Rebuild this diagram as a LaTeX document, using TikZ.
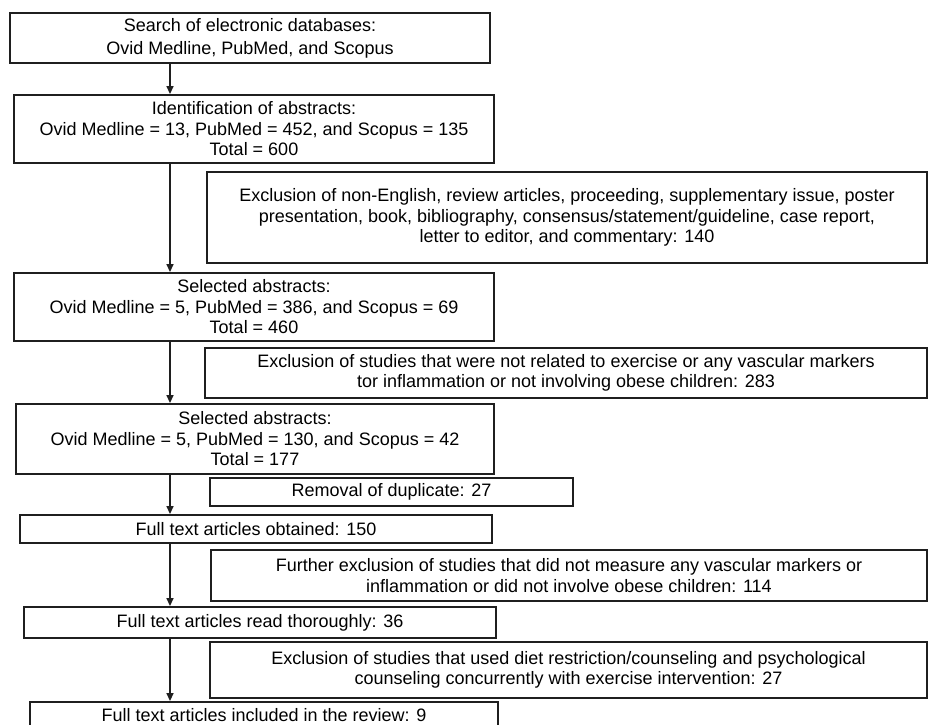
\documentclass[tikz,border=0pt]{standalone}
\usepackage{fontspec}
\setmainfont{Liberation Sans}
\usetikzlibrary{arrows.meta}
\begin{document}
\begin{tikzpicture}[x=1pt,y=-1pt,
  box/.style={draw=black!88, line width=1.9pt, align=center, inner sep=0pt,
    font=\fontsize{18}{20.5}\selectfont},
  arr/.style={draw=black!88, line width=1.5pt, -{Triangle[length=8pt,width=7pt]}}]
\useasboundingbox (0,0) rectangle (931,724);
\clip (0,0) rectangle (931,724);
\coordinate (ax) at (170,0);
\node[box, font=\fontsize{18}{23}\selectfont, minimum width=480pt, minimum height=50pt] (b1) at (250,38)
  {Search of electronic databases:\\Ovid Medline, PubMed, and Scopus};
\node[box, minimum width=480pt, minimum height=68pt] (b2) at (254,129)
  {Identification of abstracts:\\Ovid Medline = 13, PubMed = 452, and Scopus = 135\\Total = 600};
\node[box, minimum width=720pt, minimum height=91pt] (e1) at (567,217.5)
  {Exclusion of non-English, review articles, proceeding, supplementary issue, poster\\presentation, book, bibliography, consensus/statement/guideline, case report,\\letter to editor, and commentary: 140};
\node[box, minimum width=480pt, minimum height=68pt] (b3) at (254,307)
  {Selected abstracts:\\Ovid Medline = 5, PubMed = 386, and Scopus = 69\\Total = 460};
\node[box, minimum width=722pt, minimum height=50pt] (e2) at (566,373)
  {Exclusion of studies that were not related to exercise or any vascular markers\\tor inflammation or not involving obese children: 283};
\node[box, minimum width=478pt, minimum height=70pt] (b4) at (255,439)
  {Selected abstracts:\\Ovid Medline = 5, PubMed = 130, and Scopus = 42\\Total = 177};
\node[box, minimum width=363pt, minimum height=28pt] (rm) at (391.5,492)
  {Removal of duplicate: 27};
\node[box, minimum width=472pt, minimum height=28pt] (ob) at (256,529)
  {Full text articles obtained: 150};
\node[box, minimum width=716pt, minimum height=51pt] (fe) at (569,575.5)
  {Further exclusion of studies that did not measure any vascular markers or\\inflammation or did not involve obese children: 114};
\node[box, minimum width=472pt, minimum height=31pt] (rd) at (260,622.5)
  {Full text articles read thoroughly: 36};
\node[box, minimum width=717pt, minimum height=56pt] (e4) at (568.5,670)
  {Exclusion of studies that used diet restriction/counseling and psychological\\counseling concurrently with exercise intervention: 27};
\node[box, minimum width=468pt, minimum height=26pt] (in) at (264,715)
  {Full text articles included in the review: 9};
\draw[arr] (b1.south -| ax) -- (b2.north -| ax);
\draw[arr] (b2.south -| ax) -- (b3.north -| ax);
\draw[arr] (b3.south -| ax) -- (b4.north -| ax);
\draw[arr] (b4.south -| ax) -- (ob.north -| ax);
\draw[arr] (ob.south -| ax) -- (rd.north -| ax);
\draw[arr] (rd.south -| ax) -- (in.north -| ax);
\end{tikzpicture}
\end{document}
